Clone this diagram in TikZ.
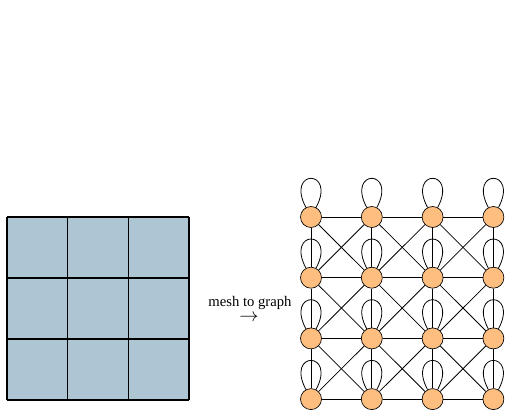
\documentclass[tikz,border=0pt]{standalone}
\usepackage{tikz}
\usepackage{fontspec}
\setmainfont{Liberation Serif}
\usetikzlibrary{positioning}
\definecolor{meshblue}{RGB}{174,198,211}
\definecolor{vertexorange}{RGB}{253,190,128}
\tikzstyle{meshline} = [
    draw=black,
    line width=0.8pt
]
\tikzstyle{vertex} = [
    circle,
    minimum size=15.75pt,
    inner sep=0pt,
    draw=black,
    fill=vertexorange,
    line width=0.5pt
]
\tikzstyle{link} = [
    line width=0.6pt
]
\tikzstyle{selfloop} = [
    link,
    loop,
    out=118,
    in=62,
    distance=33pt
]

\begin{document}
\begin{tikzpicture}[x=0.75pt, y=-0.75pt]
        \useasboundingbox (0,0) rectangle (525,415);

        % mesh
        \fill[meshblue] (7,217) rectangle (189,400);
        \foreach \k in {0,...,3} {
            \draw[meshline] ({7+60.67*\k},217) -- ({7+60.67*\k},400);
            \draw[meshline] (7,{217+61*\k}) -- (189,{217+61*\k});
        }

        \node (caption) at (250,303) [inner sep=0pt, font=\fontsize{11pt}{11pt}\selectfont] {mesh to graph};
        \node (arrow) at (249,318) [inner sep=0pt, font=\fontsize{15pt}{15pt}\selectfont] {$\rightarrow$};

        % graph
        \foreach \r in {1,...,4}
            \foreach \c in {1,...,4}
                \node (v\r\c) [vertex] at ({311+60.8*(\c-1)},{217+60.7*(\r-1)}) {};

        \foreach \r in {1,...,4}
            \foreach \c in {1,...,4}
                \path (v\r\c) edge[selfloop] (v\r\c);

        \foreach \r in {1,...,4}
            \foreach \c/\cn in {1/2,2/3,3/4} {
                \draw[link] (v\r\c) -- (v\r\cn);
                \draw[link] (v\c\r) -- (v\cn\r);
            }

        \foreach \r/\rn in {1/2,2/3,3/4}
            \foreach \c/\cn in {1/2,2/3,3/4} {
                \draw[link] (v\r\c) -- (v\rn\cn);
                \draw[link] (v\r\cn) -- (v\rn\c);
            }
    \end{tikzpicture}
\end{document}
